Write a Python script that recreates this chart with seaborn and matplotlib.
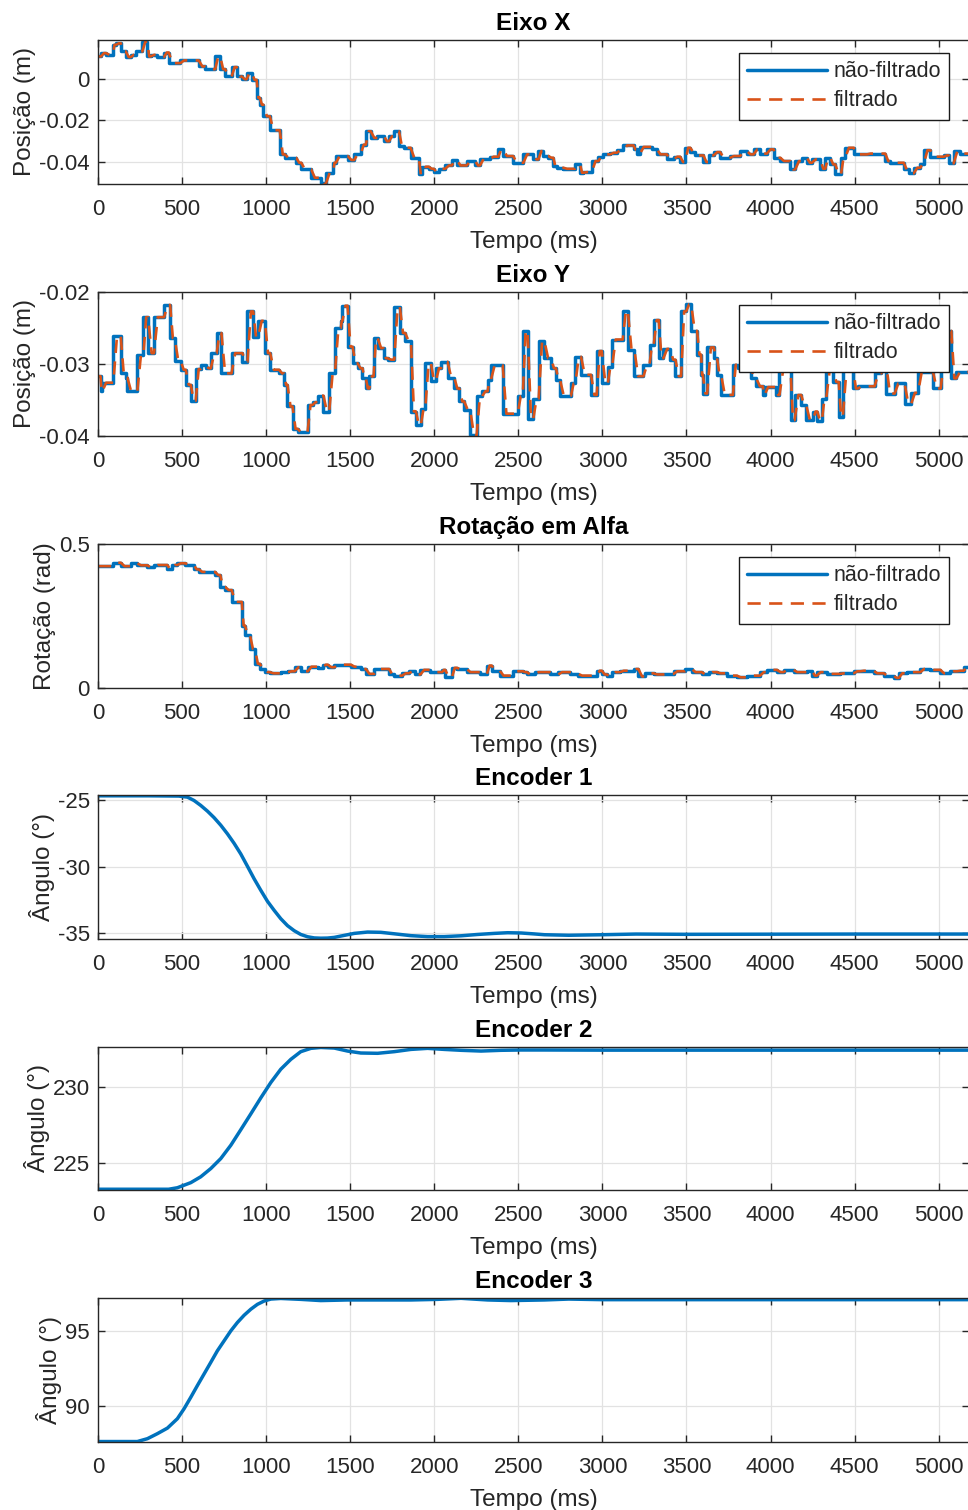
import matplotlib
matplotlib.use("Agg")
import matplotlib.pyplot as plt
import seaborn as sns
import pandas as pd

# ---------------- data ----------------
tick_x = [0, 500, 1000, 1500, 2000, 2500, 3000, 3500, 4000, 4500, 5000]
t_end = 5180

# Eixo X: step start times (ms) and positions (m)
ex_t = [0, 18, 47, 87, 106, 136, 165, 195, 224, 264, 293, 313, 352, 392, 421, 490, 599, 638,
        697, 727, 756, 795, 825, 855, 884, 914, 943, 963, 983, 1022, 1081, 1111, 1179, 1209,
        1268, 1327, 1356, 1396, 1415, 1485, 1524, 1563, 1593, 1622, 1662, 1701, 1731, 1760,
        1790, 1819, 1859, 1908, 1928, 1967, 1997, 2026, 2065, 2105, 2134, 2193, 2243, 2272,
        2331, 2381, 2410, 2469, 2530, 2589, 2619, 2649, 2679, 2708, 2728, 2768, 2837, 2867,
        2887, 2937, 2976, 3002, 3046, 3085, 3125, 3185, 3204, 3224, 3294, 3323, 3383, 3423,
        3462, 3492, 3522, 3552, 3601, 3631, 3661, 3700, 3760, 3819, 3859, 3899, 3938, 3978,
        4018, 4058, 4117, 4147, 4186, 4216, 4246, 4296, 4325, 4355, 4385, 4419, 4444, 4494,
        4573, 4682, 4712, 4792, 4821, 4851, 4891, 4911, 4950, 5030, 5059, 5089, 5129]
ex_v = [0.0107, 0.0123, 0.0115, 0.0163, 0.0170, 0.0131, 0.0104, 0.0115, 0.0131, 0.0178,
        0.0107, 0.0115, 0.0104, 0.0126, 0.0075, 0.0088, 0.0059, 0.0046, 0.0107, 0.0046,
        0.0011, 0.0056, 0.0011, -0.0002, 0.0030, -0.0005, -0.0092, -0.0124, -0.0180,
        -0.0247, -0.0363, -0.0379, -0.0403, -0.0435, -0.0475, -0.0502, -0.0451, -0.0403,
        -0.0371, -0.0390, -0.0359, -0.0316, -0.0252, -0.0284, -0.0276, -0.0300, -0.0276,
        -0.0252, -0.0323, -0.0331, -0.0379, -0.0459, -0.0422, -0.0432, -0.0448, -0.0432,
        -0.0416, -0.0390, -0.0416, -0.0395, -0.0416, -0.0384, -0.0374, -0.0339, -0.0371,
        -0.0403, -0.0363, -0.0387, -0.0347, -0.0371, -0.0379, -0.0419, -0.0427, -0.0432,
        -0.0411, -0.0451, -0.0448, -0.0395, -0.0375, -0.0363, -0.0355, -0.0343, -0.0320,
        -0.0339, -0.0359, -0.0327, -0.0336, -0.0363, -0.0387, -0.0374, -0.0400, -0.0331,
        -0.0352, -0.0368, -0.0400, -0.0368, -0.0352, -0.0379, -0.0371, -0.0347, -0.0363,
        -0.0339, -0.0359, -0.0339, -0.0379, -0.0395, -0.0435, -0.0395, -0.0379, -0.0403,
        -0.0387, -0.0432, -0.0379, -0.0411, -0.0459, -0.0379, -0.0331, -0.0363, -0.0359,
        -0.0395, -0.0403, -0.0435, -0.0454, -0.0427, -0.0411, -0.0343, -0.0374, -0.0368,
        -0.0406, -0.0347, -0.0359]

# Eixo Y
ey_t = [0, 15, 26, 91, 135, 165, 175, 234, 270, 298, 333, 393, 429, 456, 492, 522, 552, 581,
        611, 641, 671, 706, 734, 794, 859, 889, 923, 952, 992, 1024, 1077, 1107, 1127, 1157,
        1187, 1246, 1276, 1306, 1341, 1375, 1409, 1444, 1454, 1484, 1514, 1544, 1573, 1593,
        1613, 1639, 1663, 1698, 1722, 1762, 1795, 1827, 1861, 1891, 1920, 1946, 1980, 2010,
        2040, 2079, 2119, 2149, 2178, 2214, 2252, 2284, 2317, 2337, 2407, 2496, 2526, 2555,
        2589, 2621, 2655, 2694, 2724, 2748, 2813, 2839, 2873, 2932, 2966, 2996, 3032, 3057,
        3121, 3151, 3190, 3244, 3280, 3305, 3335, 3363, 3402, 3434, 3468, 3498, 3528, 3563,
        3587, 3597, 3623, 3663, 3682, 3706, 3776, 3805, 3885, 3915, 3954, 3964, 4034, 4053,
        4119, 4143, 4182, 4212, 4252, 4278, 4305, 4331, 4371, 4405, 4430, 4490, 4520, 4619,
        4659, 4688, 4738, 4797, 4837, 4877, 4966, 5012, 5055, 5075, 5105]
ey_v = [-0.0317, -0.0338, -0.0326, -0.0261, -0.0313, -0.0319, -0.0338, -0.0287, -0.0235,
        -0.0285, -0.0235, -0.0218, -0.0264, -0.0296, -0.0308, -0.0329, -0.0351, -0.0307,
        -0.0302, -0.0306, -0.0285, -0.0257, -0.0313, -0.0285, -0.0297, -0.0227, -0.0263,
        -0.0240, -0.0285, -0.0308, -0.0313, -0.0329, -0.0359, -0.0390, -0.0395, -0.0357,
        -0.0353, -0.0344, -0.0366, -0.0313, -0.0250, -0.0240, -0.0219, -0.0276, -0.0299,
        -0.0306, -0.0320, -0.0334, -0.0317, -0.0264, -0.0278, -0.0292, -0.0294, -0.0221,
        -0.0257, -0.0268, -0.0366, -0.0385, -0.0363, -0.0299, -0.0323, -0.0306, -0.0297,
        -0.0319, -0.0334, -0.0352, -0.0364, -0.0399, -0.0345, -0.0338, -0.0322, -0.0302,
        -0.0369, -0.0345, -0.0254, -0.0376, -0.0348, -0.0268, -0.0292, -0.0306, -0.0322,
        -0.0344, -0.0327, -0.0290, -0.0315, -0.0343, -0.0282, -0.0327, -0.0304, -0.0266,
        -0.0226, -0.0280, -0.0317, -0.0301, -0.0273, -0.0239, -0.0292, -0.0279, -0.0294,
        -0.0317, -0.0227, -0.0217, -0.0254, -0.0287, -0.0315, -0.0341, -0.0277, -0.0292,
        -0.0315, -0.0343, -0.0301, -0.0306, -0.0320, -0.0331, -0.0343, -0.0332, -0.0343,
        -0.0308, -0.0378, -0.0343, -0.0357, -0.0378, -0.0366, -0.0379, -0.0348, -0.0306,
        -0.0325, -0.0373, -0.0306, -0.0334, -0.0331, -0.0313, -0.0301, -0.0341, -0.0327,
        -0.0355, -0.0340, -0.0311, -0.0334, -0.0287, -0.0254, -0.0320, -0.0311]

# Rotação em Alfa
ra_t = [0, 87, 136, 195, 234, 293, 333, 412, 441, 471, 520, 569, 599, 697, 727, 756, 795,
        855, 874, 904, 933, 963, 992, 1022, 1091, 1130, 1170, 1209, 1248, 1307, 1337, 1366,
        1406, 1504, 1563, 1593, 1642, 1731, 1760, 1809, 1849, 1888, 1918, 1977, 2046, 2065,
        2105, 2134, 2193, 2272, 2312, 2341, 2390, 2469, 2528, 2550, 2599, 2689, 2738, 2808,
        2857, 2966, 2996, 3026, 3056, 3105, 3185, 3214, 3254, 3304, 3363, 3423, 3492, 3532,
        3591, 3631, 3681, 3740, 3800, 3859, 3938, 3978, 4038, 4077, 4137, 4216, 4246, 4276,
        4335, 4415, 4494, 4534, 4613, 4673, 4732, 4762, 4811, 4891, 4950, 5010, 5069, 5109,
        5149]
ra_v = [0.423, 0.435, 0.423, 0.433, 0.426, 0.419, 0.427, 0.412, 0.427, 0.433, 0.428, 0.412,
        0.403, 0.392, 0.351, 0.340, 0.299, 0.217, 0.183, 0.136, 0.084, 0.066, 0.055, 0.051,
        0.055, 0.058, 0.072, 0.058, 0.074, 0.070, 0.081, 0.072, 0.081, 0.074, 0.066, 0.049,
        0.066, 0.049, 0.043, 0.051, 0.058, 0.047, 0.063, 0.055, 0.063, 0.037, 0.070, 0.066,
        0.055, 0.047, 0.078, 0.060, 0.043, 0.058, 0.055, 0.047, 0.055, 0.047, 0.055, 0.049,
        0.043, 0.060, 0.047, 0.040, 0.055, 0.060, 0.066, 0.040, 0.051, 0.047, 0.049, 0.058,
        0.066, 0.055, 0.047, 0.055, 0.051, 0.043, 0.037, 0.043, 0.055, 0.063, 0.055, 0.063,
        0.055, 0.060, 0.043, 0.055, 0.049, 0.051, 0.058, 0.060, 0.051, 0.043, 0.035, 0.051,
        0.055, 0.066, 0.063, 0.051, 0.058, 0.060, 0.072]

# Encoders (smooth angle readings, degrees)
e1_t = [0, 300, 480, 532, 571, 611, 651, 690, 730, 770, 809, 849, 889, 928, 968, 1008,
        1048, 1087, 1127, 1167, 1206, 1246, 1286, 1325, 1365, 1405, 1444, 1524, 1603, 1682,
        1762, 1861, 1960, 2059, 2159, 2258, 2357, 2436, 2516, 2595, 2655, 2800, 3000, 3200,
        3500, 4000, 4500, 5000, 5180]
e1_v = [-24.70, -24.70, -24.72, -24.80, -25.05, -25.42, -25.85, -26.33, -26.90, -27.55,
        -28.25, -29.05, -29.98, -30.90, -31.77, -32.60, -33.28, -33.90, -34.42, -34.80,
        -35.08, -35.25, -35.34, -35.36, -35.35, -35.30, -35.20, -35.00, -34.90, -34.92,
        -35.03, -35.17, -35.24, -35.24, -35.18, -35.08, -35.00, -34.95, -34.97, -35.04,
        -35.10, -35.14, -35.10, -35.05, -35.07, -35.06, -35.05, -35.05, -35.05]

e2_t = [0, 420, 472, 552, 611, 671, 730, 790, 849, 909, 968, 1028, 1087, 1147, 1206, 1266,
        1325, 1405, 1484, 1563, 1663, 1762, 1861, 1960, 2059, 2159, 2278, 2397, 2516, 2655,
        3000, 3500, 4000, 4500, 5180]
e2_v = [223.22, 223.22, 223.32, 223.66, 224.05, 224.60, 225.26, 226.15, 227.18, 228.24,
        229.30, 230.33, 231.21, 231.87, 232.38, 232.60, 232.66, 232.62, 232.42, 232.29,
        232.27, 232.38, 232.53, 232.60, 232.53, 232.47, 232.42, 232.47, 232.49, 232.49,
        232.48, 232.48, 232.48, 232.48, 232.48]

e3_t = [0, 234, 294, 353, 413, 472, 512, 552, 591, 631, 671, 710, 750, 790, 829, 869, 909,
        948, 988, 1028, 1087, 1206, 1325, 1484, 1663, 1861, 2020, 2159, 2318, 2456, 2655,
        2800, 3000, 3500, 4000, 4500, 5180]
e3_v = [87.68, 87.68, 87.87, 88.20, 88.57, 89.19, 89.85, 90.61, 91.38, 92.15, 92.92, 93.68,
        94.34, 95.00, 95.55, 96.03, 96.43, 96.75, 96.97, 97.10, 97.14, 97.08, 97.00, 97.04,
        97.04, 97.04, 97.08, 97.15, 97.04, 97.00, 97.04, 97.10, 97.06, 97.06, 97.06, 97.06,
        97.06]

yt_ex = [-0.04, -0.02, 0]
yl_ex = ["-0.04", "-0.02", "0"]
yt_ey = [-0.04, -0.03, -0.02]
yl_ey = ["-0.04", "-0.03", "-0.02"]
yt_ra = [0, 0.5]
yl_ra = ["0", "0.5"]
yt_e1 = [-35, -30, -25]
yl_e1 = ["-35", "-30", "-25"]
yt_e2 = [225, 230]
yl_e2 = ["225", "230"]
yt_e3 = [90, 95]
yl_e3 = ["90", "95"]

# ---------------- style ----------------
sns.set_theme(style="white")
plt.rcParams["font.family"] = ["Liberation Sans", "DejaVu Sans"]
plt.rcParams["axes.unicode_minus"] = False

BLUE = "#0072BD"
ORANGE = "#D95319"
DARK = "#262626"

fig = plt.figure(figsize=(9.68, 15.1), dpi=100)
H = 1510.0
left = 98 / 968.0
width = 1.0 - left + 0.001


def make_ax(top_px, bottom_px):
    return fig.add_axes([left, 1 - bottom_px / H, width, (bottom_px - top_px) / H])


def style(ax, title, ylabel, ylim, yt, yl):
    ax.set_xlim(0, t_end)
    ax.set_ylim(*ylim)
    ax.set_xticks(tick_x)
    ax.set_xticklabels([str(v) for v in tick_x])
    ax.set_yticks(yt)
    ax.set_yticklabels(yl)
    ax.grid(True, color="#e2e2e2", linewidth=0.9)
    ax.set_axisbelow(True)
    ax.tick_params(axis="x", direction="in", length=5, width=1, top=True, bottom=True,
                   labelsize=16, colors=DARK, pad=11)
    ax.tick_params(axis="y", direction="in", length=5, width=1, left=True, right=True,
                   labelsize=16, colors=DARK, pad=6)
    for s in ax.spines.values():
        s.set_color(DARK)
        s.set_linewidth(1.0)
    ax.set_title(title, fontsize=17.5, fontweight="bold", color="black", pad=7.5)
    ax.set_xlabel("Tempo (ms)", fontsize=17.5, color=DARK, labelpad=8)
    ax.set_ylabel(ylabel, fontsize=17.5, color=DARK, labelpad=2)


def step_df(ts, vs):
    return pd.DataFrame({"t": list(ts) + [t_end], "v": list(vs) + [vs[-1]]})


def filt_df(ts, vs, lag=22.0):
    # filtered trace follows the same readings with a short lag on every step
    xs, ys = [ts[0]], [vs[0]]
    for i in range(1, len(ts)):
        nxt = ts[i + 1] if i + 1 < len(ts) else t_end
        d = min(lag, 0.6 * (nxt - ts[i]))
        xs += [ts[i], ts[i] + d]
        ys += [vs[i - 1], vs[i]]
    xs.append(t_end)
    ys.append(vs[-1])
    return pd.DataFrame({"t": xs, "v": ys})


def raw_and_filtered(ax, ts, vs, legend_top):
    sns.lineplot(data=step_df(ts, vs), x="t", y="v", ax=ax, color=BLUE, linewidth=2.5,
                 drawstyle="steps-post", estimator=None, sort=False, label="não-filtrado")
    sns.lineplot(data=filt_df(ts, vs), x="t", y="v", ax=ax, color=ORANGE, linewidth=1.9,
                 estimator=None, sort=False, label="filtrado")
    ax.get_lines()[-1].set_dashes((5.0, 3.2))
    leg = ax.legend(loc="upper right", bbox_to_anchor=(0.977, legend_top), borderaxespad=0,
                    fontsize=15.5, handlelength=3.7, handletextpad=0.3, labelspacing=0.38,
                    borderpad=0.38, fancybox=False, framealpha=1, edgecolor="#1a1a1a")
    leg.get_frame().set_linewidth(1.0)


ax1 = make_ax(40, 184)
raw_and_filtered(ax1, ex_t, ex_v, 0.91)
style(ax1, "Eixo X", "Posição (m)", (-0.0505, 0.0186), yt_ex, yl_ex)

ax2 = make_ax(292, 436)
raw_and_filtered(ax2, ey_t, ey_v, 0.91)
style(ax2, "Eixo Y", "Posição (m)", (-0.040, -0.020), yt_ey, yl_ey)

ax3 = make_ax(544, 688)
raw_and_filtered(ax3, ra_t, ra_v, 0.91)
style(ax3, "Rotação em Alfa", "Rotação (rad)", (0, 0.5), yt_ra, yl_ra)

ax4 = make_ax(795, 939)
sns.lineplot(x=e1_t, y=e1_v, ax=ax4, color=BLUE, linewidth=2.5, estimator=None, sort=False)
style(ax4, "Encoder 1", "Ângulo (°)", (-35.42, -24.64), yt_e1, yl_e1)

ax5 = make_ax(1047, 1190)
sns.lineplot(x=e2_t, y=e2_v, ax=ax5, color=BLUE, linewidth=2.5, estimator=None, sort=False)
style(ax5, "Encoder 2", "Ângulo (°)", (223.17, 232.69), yt_e2, yl_e2)

ax6 = make_ax(1298, 1442)
sns.lineplot(x=e3_t, y=e3_v, ax=ax6, color=BLUE, linewidth=2.5, estimator=None, sort=False)
style(ax6, "Encoder 3", "Ângulo (°)", (87.65, 97.17), yt_e3, yl_e3)

fig.savefig("out.png", dpi=100)
